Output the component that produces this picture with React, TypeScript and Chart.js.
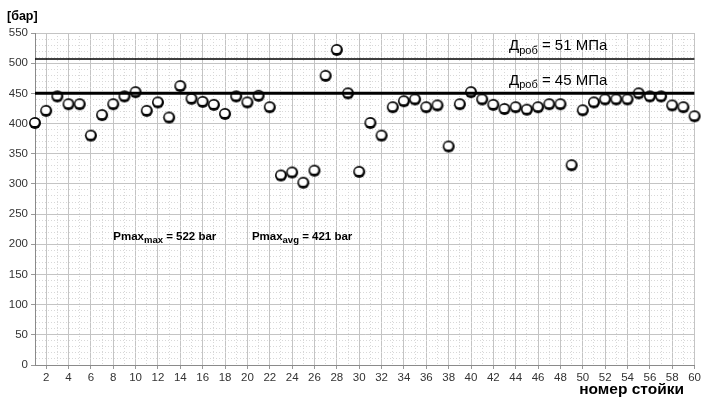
import React, { useEffect, useRef } from "react";
import { Chart, registerables } from "chart.js";

Chart.register(...registerables);

// номер стойки
const racks: number[] = Array.from({ length: 60 }, (_, i) => i + 1);
// Pmax, bar
const pressures: number[] = [
  401, 421, 445, 432, 432, 380, 414, 432, 445, 452,
  421, 435, 410, 462, 441, 436, 431, 416, 445, 435,
  446, 427, 314, 319, 302, 322, 479, 522, 450, 320,
  401, 380, 427, 437, 440, 427, 430, 362, 432, 452,
  440, 431, 424, 427, 423, 427, 432, 432, 331, 422,
  435, 440, 440, 440, 450, 445, 445, 430, 427, 412,
];
const limitValues: number[] = [507, 450];
const limitLabels: string[] = ["51 МПа", "45 МПа"];
const statLabels: string[] = ["max", "avg"];
const statValues: number[] = [522, 421];
const yMin = 0;
const yMax = 550;
const xMin = 1;
const xMax = 60;

const FONT = "'Liberation Sans', Arial, sans-serif";

function makeMarker(): HTMLCanvasElement {
  const c = document.createElement("canvas");
  c.width = 14;
  c.height = 14;
  const g = c.getContext("2d")!;
  g.beginPath();
  g.arc(7, 7, 6, 0, Math.PI * 2);
  g.fillStyle = "#050505";
  g.fill();
  const grad = g.createRadialGradient(6.3, 5.8, 0.5, 6.6, 6.4, 4.2);
  grad.addColorStop(0, "#ffffff");
  grad.addColorStop(0.8, "#ffffff");
  grad.addColorStop(1, "#c8c8c8");
  g.beginPath();
  g.ellipse(6.7, 6.4, 4.2, 3.7, 0, 0, Math.PI * 2);
  g.fillStyle = grad;
  g.fill();
  return c;
}

const textPlugin = {
  id: "texts",
  afterDatasetsDraw(chart: any) {
    const { ctx, scales } = chart;
    const xs = scales.x;
    const ys = scales.y;
    ctx.save();
    ctx.fillStyle = "#000";
    ctx.textBaseline = "middle";
    ctx.textAlign = "left";

    const sub = (x: number, y: number, main: string, subs: string, rest: string, size: number, subSize: number, bold: boolean) => {
      const w = bold ? "bold " : "";
      ctx.font = `${w}${size}px ${FONT}`;
      ctx.fillText(main, x, y);
      let cx = x + ctx.measureText(main).width;
      ctx.font = `${w}${subSize}px ${FONT}`;
      ctx.fillText(subs, cx, y + size * 0.32);
      cx += ctx.measureText(subs).width;
      ctx.font = `${w}${size}px ${FONT}`;
      ctx.fillText(rest, cx, y);
    };

    // limit labels
    limitValues.forEach((v, i) => {
      const px = xs.getPixelForValue(43.4);
      const py = ys.getPixelForValue(v) - 13;
      sub(px, py, "Д", "роб", " = " + limitLabels[i], 15, 11, false);
    });

    // statistics
    const sy = ys.getPixelForValue(212);
    const sx = [8.0, 20.4];
    statLabels.forEach((s, i) => {
      sub(xs.getPixelForValue(sx[i]), sy, "Pmax", s, ` = ${statValues[i]} bar`, 11.5, 9.5, true);
    });

    // axis titles
    ctx.font = `bold 12.5px ${FONT}`;
    ctx.fillText("[бар]", 7, 17);
    ctx.font = `bold 15.5px ${FONT}`;
    ctx.textAlign = "right";
    ctx.fillText("номер стойки", 684, 390);
    ctx.restore();
  },
};

export default function App() {
  const ref = useRef<HTMLCanvasElement>(null);
  useEffect(() => {
    document.body.style.margin = "0";
    const marker = makeMarker();
    const lineWidths = [1.5, 3];
    const chart = new Chart(ref.current!, {
      type: "scatter",
      data: {
        datasets: [
          ...limitValues.map((v, i) => ({
            type: "line" as const,
            data: [
              { x: xMin, y: v },
              { x: xMax, y: v },
            ],
            borderColor: "#000",
            borderWidth: lineWidths[i],
            pointRadius: 0,
            fill: false,
          })),
          {
            type: "scatter" as const,
            data: racks.map((r, i) => ({ x: r, y: pressures[i] })),
            pointStyle: marker as any,
            pointRadius: 6,
            clip: false as any,
          },
        ],
      },
      options: {
        animation: false,
        responsive: false,
        layout: { padding: { top: 33, right: 7, bottom: 0, left: 0 } },
        plugins: {
          legend: { display: false },
          tooltip: { enabled: false },
        },
        scales: {
          x: {
            type: "linear",
            min: xMin,
            max: xMax,
            ticks: {
              stepSize: 1,
              autoSkip: false,
              maxRotation: 0,
              color: "#333",
              padding: 2,
              font: { family: FONT, size: 11.5 },
              callback: (v: any) => (Number(v) % 2 === 0 ? String(v) : ""),
            },
            grid: {
              color: (c: any) => (c.tick && c.tick.value % 2 === 0 ? "#c4c4c4" : "#d8d8d8"),
              lineWidth: 1,
              tickLength: 4,
              tickColor: (c: any) => (c.tick && c.tick.value % 2 === 0 ? "#999" : "rgba(0,0,0,0)"),
            },
            border: {
              display: true,
              color: "#8a8a8a",
              dash: (c: any) => (c.tick && c.tick.value % 2 !== 0 ? [1, 2] : []),
            },
            afterFit: (s: any) => {
              s.height = 33;
            },
          } as any,
          y: {
            type: "linear",
            min: yMin,
            max: yMax,
            ticks: {
              stepSize: 10,
              autoSkip: false,
              color: "#333",
              padding: 3,
              font: { family: FONT, size: 11.5 },
              callback: (v: any) => (Number(v) % 50 === 0 ? String(v) : ""),
            },
            grid: {
              color: (c: any) => (c.tick && c.tick.value % 50 === 0 ? "#c4c4c4" : "#d8d8d8"),
              lineWidth: 1,
              tickLength: 4,
              tickColor: (c: any) => (c.tick && c.tick.value % 50 === 0 ? "#999" : "rgba(0,0,0,0)"),
            },
            border: {
              display: true,
              color: "#8a8a8a",
              dash: (c: any) => (c.tick && c.tick.value % 50 !== 0 ? [1, 2] : []),
            },
            afterFit: (s: any) => {
              s.width = 35;
            },
          } as any,
        },
      },
      plugins: [textPlugin],
    });
    return () => chart.destroy();
  }, []);
  return <canvas ref={ref} width={703} height={398} style={{ display: "block" }} />;
}
